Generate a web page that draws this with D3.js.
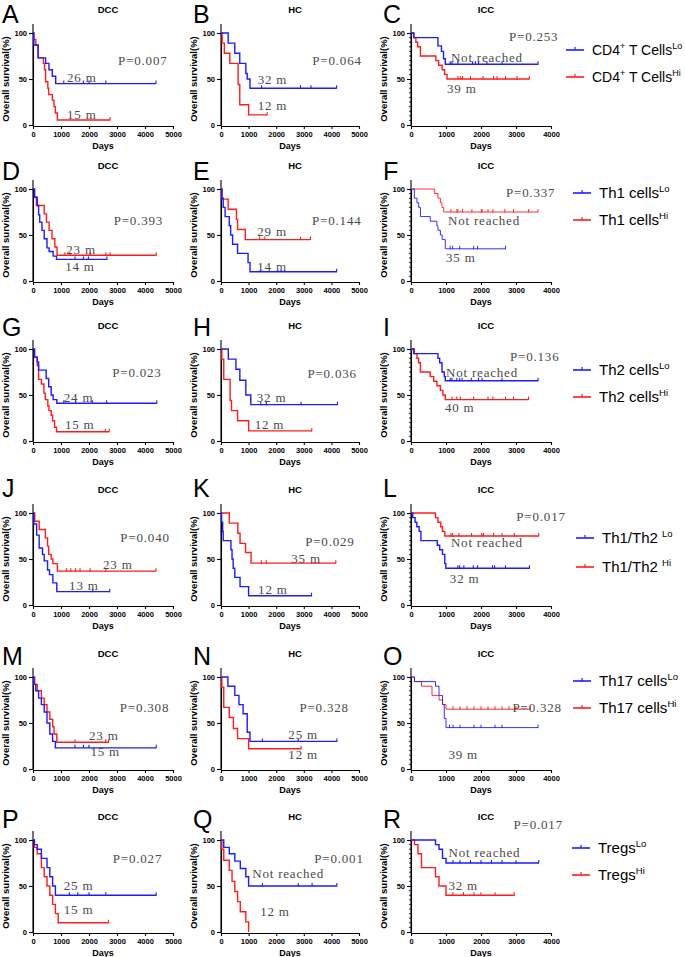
<!DOCTYPE html>
<html><head><meta charset="utf-8">
<script src="https://cdn.jsdelivr.net/npm/d3@7"></script>
<style>body{margin:0;background:#fff}svg{display:block}</style>
</head><body>
<svg id="c" width="685" height="957"></svg>
<script>
// ---------------- DATA ----------------
const panelLetters = ["A","B","C","D","E","F","G","H","I","J","K","L","M","N","O","P","Q","R"];
const cohorts = ["DCC","HC","ICC"];
const pValues = ["P=0.007","P=0.064","P=0.253","P=0.393","P=0.144","P=0.337","P=0.023","P=0.036","P=0.136",
  "P=0.040","P=0.029","P=0.017","P=0.308","P=0.328","P=0.328","P=0.027","P=0.001","P=0.017"];
const medianLo = ["26 m","32 m","Not reached","14 m","14 m","35 m","24 m","32 m","Not reached",
  "13 m","12 m","32 m","15 m","25 m","39 m","25 m","Not reached","Not reached"];
const medianHi = ["15 m","12 m","39 m","23 m","29 m","Not reached","15 m","12 m","40 m",
  "23 m","35 m","Not reached","23 m","12 m","","15 m","12 m","32 m"];
const legendNames = ["CD4^+^ T Cells","Th1 cells","Th2 cells","Th1/Th2 ","Th17 cells","Tregs"];
const groupSuffix = ["Lo","Hi"];
const xTicksDccHc = [0,1000,2000,3000,4000,5000];
const xTicksIcc = [0,1000,2000,3000,4000];
const yTicks = [0,50,100];

// Kaplan-Meier steps: [day, survival % after the drop]; censor days (last = end of curve)
const loSteps = [
  [[30,87],[180,73],[450,67],[570,60],[690,53],[810,45]],
  [[260,89],[500,78],[680,67],[900,56],[950,50],[1050,40]],
  [[76,95],[770,86],[870,80],[930,72],[980,66]],
  [[50,91],[155,82],[200,72],[240,64],[320,55],[400,46],[500,36],[575,32],[720,27],[840,23.5]],
  [[30,90],[80,80],[150,70],[300,60],[350,50],[420,40],[600,30],[980,20],[1050,10]],
  [[95,90],[170,85],[220,80],[270,70],[550,65],[740,60],[770,55],[840,50],[890,45],[980,35]],
  [[50,91],[150,86],[200,77],[470,68],[560,59],[650,50],[720,45],[850,41]],
  [[264,89],[540,78],[683,66],[900,50],[1080,39.5]],
  [[76,95],[770,90],[820,85],[886,75],[950,70],[980,65.5]],
  [[30,88],[130,76],[220,62],[340,55],[400,48],[520,38],[590,33],[710,24],[850,14.5]],
  [[20,90],[60,80],[80,70],[360,60],[400,50],[440,40],[500,30],[690,20],[1000,10]],
  [[50,95],[117,90],[166,85],[234,80],[283,70],[751,65],[820,60],[900,55],[965,45],[995,40]],
  [[30,92],[100,85],[200,77],[300,70],[400,62],[500,50],[600,38],[700,30],[800,23]],
  [[250,90],[500,80],[650,70],[800,60],[950,40],[1050,30]],
  [[100,95],[700,90],[800,80],[900,70],[950,55],[1000,45]],
  [[50,95],[150,90],[300,80],[500,70],[600,60],[700,50],[800,40]],
  [[100,92],[300,85],[500,77],[700,69],[900,60],[1000,50]],
  [[700,95],[800,90],[900,80],[1000,75]]
];
const loCensor = [
  [1100,1800,2000,2600,4390],
  [1470,2880,3260,4190],
  [1120,1170,1340,1760,1840,1930,2170,2600,3630],
  [1500,1800,1980,2640],
  [4190],
  [1120,1190,1390,1790,1900,2700],
  [1100,1520,2120,2630,4420],
  [1440,1640,2900,4220],
  [1120,1170,1310,1390,1460,1720,1930,2030,2600,3630],
  [2130,2740],
  [3280],
  [1340,1390,1510,1780,1900,2330,2390,2700,3385],
  [1500,1800,2000,4400],
  [1500,2800,4200],
  [1100,1200,1400,1800,2000,2400,2600,3630],
  [1300,1600,2000,2600,4400],
  [1500,2800,3300,4200],
  [1200,1400,1700,2000,2300,2600,3000,3650]
];
const hiSteps = [
  [[30,93],[100,87],[190,73],[370,67],[410,60],[450,47],[530,40],[560,33],[690,27],[750,20],[800,13],[870,5.5]],
  [[40,89],[120,78],[320,67],[620,44],[680,22],[1000,11]],
  [[80,95],[140,90],[190,85],[270,75],[710,70],[790,65],[890,60],[960,55],[1030,50]],
  [[60,91],[120,82],[400,73],[480,64],[575,55],[680,46],[780,37],[860,28]],
  [[40,89],[260,78],[560,67],[600,56],[880,45]],
  [[676,95],[770,90],[840,85],[886,80],[933,75]],
  [[60,91],[150,82],[200,67],[300,62],[390,52],[440,45],[530,38],[570,33],[650,28],[700,22],[770,15],[840,10]],
  [[30,89],[100,67],[330,44],[380,33],[600,22],[1000,11]],
  [[95,95],[170,90],[220,85],[270,75],[550,70],[650,65],[740,60],[840,55],[910,50],[980,45]],
  [[60,91],[220,82],[440,73],[520,64],[560,55],[650,50],[710,45],[870,36.8]],
  [[300,89],[610,78],[690,67],[890,57],[1090,45.5]],
  [[700,95],[770,90],[850,85],[900,80],[965,75]],
  [[60,92],[150,85],[300,77],[400,70],[500,62],[600,54],[700,46],[750,38],[850,29]],
  [[30,89],[100,67],[300,56],[450,44],[600,33],[1000,22]],
  [[100,95],[300,90],[600,80],[800,75],[900,70],[1000,65]],
  [[50,92],[150,85],[300,70],[400,60],[500,50],[600,40],[700,30],[800,20],[900,10]],
  [[30,90],[100,78],[300,67],[400,55],[500,44],[600,33],[700,22],[900,11],[1000,0]],
  [[100,95],[200,85],[300,70],[700,60],[800,50],[1000,40]]
];
const hiCensor = [
  [2750],
  [1670],
  [1340,1410,1470,1700,2060,2360,2460,2700,3030,3380],
  [1140,1320,2040,2600,2750,4400],
  [1400,1590,2880,3240],
  [1140,1310,1340,1470,1740,2010,2030,2200,2340,2680,2930,3360,3630],
  [2580,2720],
  [3290],
  [1170,1310,1410,1790,2200,2340,2700,2930,3360],
  [1200,1350,1520,1680,2040,2600,4390],
  [1460,1640,4160],
  [1140,1190,1370,1730,2020,2070,2360,2600,2950,3650],
  [1500,2600,2700],
  [2900],
  [1200,1400,1600,1800,2000,2200,2400,2600,2800,3000,3400],
  [2700],
  [],
  [1200,1500,1800,2000,2400,2950]
];

// ---------------- LAYOUT (positions, not data) ----------------
const colX = [33,221,411], colW = [140,138,140];
const rowTop = [33,189,349,513,677,840], plotH = 92;
const letterBase = [23,180,336,497,665,828];
const letterX = [2,193,383];
const legendY = [[50,77],[193,220],[370,397],[538,567],[681,708],[848,875]];
const legendX = [592,599,599,602,599,598];
const legendFont = [14,15,15,15,15,15];
// annotation anchors in data coordinates [day, %]
const pPos = [[3040,70],[3309,70],[2800,96],[2880,66],[3300,66],[2714,96],[2830,74],[3130,73],[2830,92],
  [3120,73],[3050,69],[3010,96],[3100,67],[2840,67],[2900,67],[2850,80],[3380,80],[2930,117]];
const loPos = [[1214,52],[1330,49],[1140,73],[1150,16],[1315,16],[1000,26],[1100,47],[1295,47],[1000,74],
  [1290,21],[1345,17],[1110,29],[2050,19],[2440,38],[1070,16],[1100,51],[1130,64],[1070,87]];
const hiPos = [[1214,11],[1330,21],[1030,40],[1190,34],[1315,54],[1057,66],[1140,18],[1220,18],[970,36],
  [2500,44],[2545,51],[1140,68],[2000,36],[2440,16],[0,0],[1100,24],[1420,22],[1070,51]];

const BLUE = "#1c1cff", RED = "#ff1c1c", TXT = "#4a4a4a";
const svg = d3.select("#c");

function survAt(steps, t){ let s = 100; for (const [d,v] of steps) if (d <= t) s = v; return s; }

panelLetters.forEach((letter, i) => {
  const row = Math.floor(i/3), col = i % 3;
  const icc = col === 2;
  const x = d3.scaleLinear().domain([0, icc ? 4000 : 5000]).range([colX[col], colX[col] + colW[col]]);
  const y = d3.scaleLinear().domain([0,100]).range([rowTop[row] + plotH, rowTop[row]]);
  const g = svg.append("g");

  // letter + title
  g.append("text").attr("x", letterX[col]).attr("y", letterBase[row]).text(letter)
    .attr("font-family","Liberation Sans, Arial").attr("font-size",25).attr("fill","#000");
  g.append("text").attr("x", (x.range()[0]+x.range()[1])/2 + 5).attr("y", rowTop[row]-20)
    .attr("text-anchor","middle").attr("font-family","Liberation Sans, Arial").attr("font-weight","bold")
    .attr("font-size",9.5).text(cohorts[col]);

  // axes
  const ya = g.append("g").attr("transform",`translate(${x(0)},0)`)
    .call(d3.axisLeft(y).tickValues(yTicks).tickSize(4).tickSizeOuter(0).tickPadding(2));
  const xa = g.append("g").attr("transform",`translate(0,${y(0)+1})`)
    .call(d3.axisBottom(x).tickValues(icc ? xTicksIcc : xTicksDccHc).tickFormat(d3.format("d"))
      .tickSize(3).tickSizeOuter(0).tickPadding(3));
  [ya, xa].forEach(a => {
    a.selectAll("text").attr("font-family","Liberation Sans, Arial").attr("font-weight","bold")
      .attr("font-size",7.5).attr("fill","#000");
    a.selectAll("line,path").attr("stroke","#000").attr("stroke-width",1.1);
  });
  g.append("line").attr("x1",x(0)).attr("x2",x(0)).attr("y1",y(100)-9).attr("y2",y(0)+1)
    .attr("stroke","#000").attr("stroke-width",1.1);
  if (icc) {
    d3.range(0,101,5).filter(v => v % 50).forEach(v => {
      g.append("line").attr("x1",x(0)-2).attr("x2",x(0)).attr("y1",y(v)).attr("y2",y(v))
        .attr("stroke","#000").attr("stroke-width",0.8);
    });
  }
  g.append("text").attr("transform",`translate(${x(0)-24},${(y(0)+y(100))/2}) rotate(-90)`)
    .attr("text-anchor","middle").attr("font-family","Liberation Sans, Arial").attr("font-weight","bold")
    .attr("font-size",9.5).text("Overall survival(%)");
  g.append("text").attr("x",(x.range()[0]+x.range()[1])/2).attr("y",rowTop[row]+116)
    .attr("text-anchor","middle").attr("font-family","Liberation Sans, Arial").attr("font-weight","bold")
    .attr("font-size",9).text("Days");

  // curves
  const thin = (i === 5 || i === 14);
  const series = [[hiSteps[i], hiCensor[i], RED],[loSteps[i], loCensor[i], BLUE]];
  series.forEach(([steps, cens, color]) => {
    const pts = [[0,100]]; let prev = 100;
    steps.forEach(([t,s]) => { pts.push([t,prev],[t,s]); prev = s; });
    const end = cens.length ? d3.max(cens) : steps[steps.length-1][0];
    pts.push([end, prev]);
    g.append("path").attr("d", d3.line().x(d=>x(d[0])).y(d=>y(d[1]))(pts))
      .attr("fill","none").attr("stroke",color).attr("stroke-width", thin ? 0.9 : 1.4);
    cens.forEach(c => {
      const v = survAt(steps, c);
      g.append("line").attr("x1",x(c)).attr("x2",x(c)).attr("y1",y(v)-3).attr("y2",y(v)+0.5)
        .attr("stroke",color).attr("stroke-width", thin ? 0.9 : 1.1);
    });
  });

  // annotations
  const ann = (pos, txt) => { if (!txt) return;
    g.append("text").attr("x",x(pos[0])).attr("y",y(pos[1])).attr("dy","0.35em")
      .attr("font-family","Liberation Serif, Times New Roman").attr("font-size",13)
      .attr("letter-spacing",0.8).attr("fill",TXT).text(txt); };
  ann(pPos[i], pValues[i]);
  ann(loPos[i], medianLo[i]);
  ann(hiPos[i], medianHi[i]);

  // legend on the right of each row
  if (icc) {
    [0,1].forEach(k => {
      const ly = legendY[row][k], color = k ? RED : BLUE, lx = legendX[row];
      g.append("line").attr("x1",lx-26).attr("x2",lx-8).attr("y1",ly).attr("y2",ly)
        .attr("stroke",color).attr("stroke-width",1.6);
      g.append("line").attr("x1",lx-17).attr("x2",lx-17).attr("y1",ly-3).attr("y2",ly)
        .attr("stroke",color).attr("stroke-width",1.2);
      const t = g.append("text").attr("x",lx).attr("y",ly+5)
        .attr("font-family","Liberation Sans, Arial").attr("font-size",legendFont[row]).attr("fill","#000");
      const parts = legendNames[row].split("^");
      let raised = false;
      parts.forEach((p, j) => {
        if (!p) return;
        const sup = j % 2 === 1;
        const span = t.append("tspan").text(p);
        if (sup) { span.attr("font-size",9).attr("dy",-6); raised = true; }
        else if (raised) { span.attr("dy",6); raised = false; }
      });
      t.append("tspan").attr("font-size",row === 0 ? 9 : 9.5).attr("dy",raised ? 0 : -6).text(groupSuffix[k]);
    });
  }
});
</script>
</body></html>
